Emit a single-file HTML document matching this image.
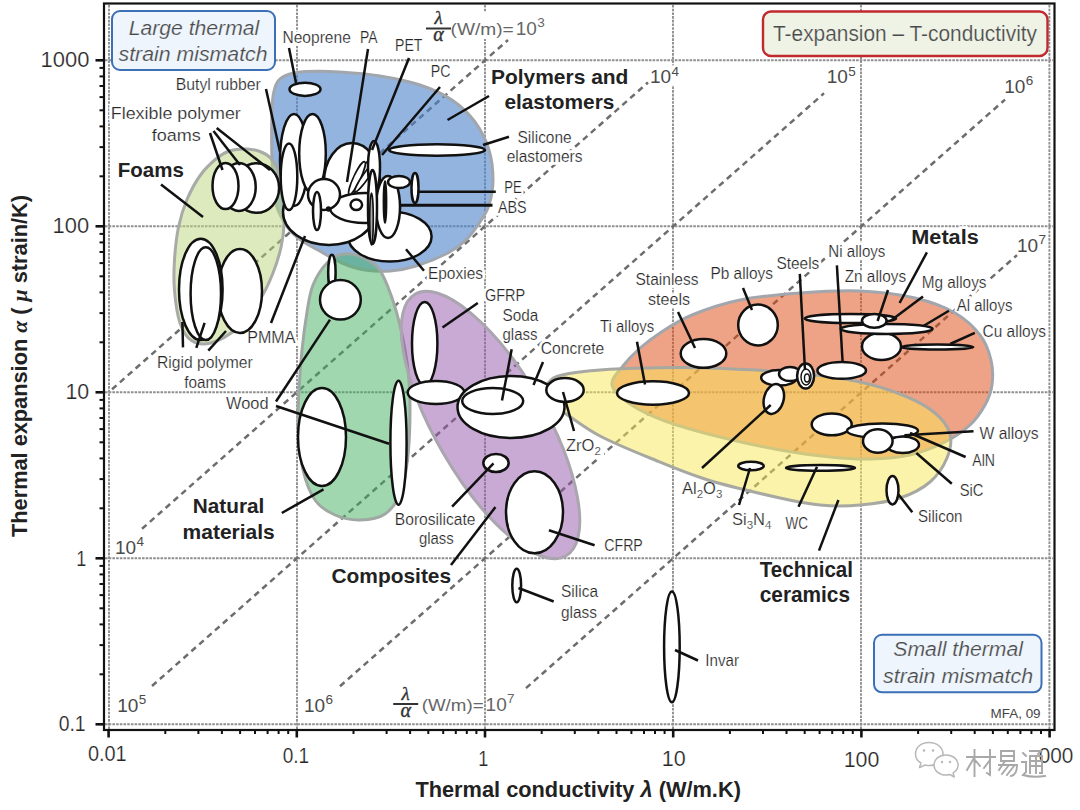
<!DOCTYPE html>
<html><head><meta charset="utf-8"><style>
html,body{margin:0;padding:0;background:#fff;width:1080px;height:810px;overflow:hidden}
svg{display:block}
</style></head><body>
<svg width="1080" height="810" viewBox="0 0 1080 810">
<rect width="1080" height="810" fill="#fff"/>
<g stroke="#8f8f8f" stroke-width="1.9" stroke-dasharray="2.6 1.1" fill="none">
<line x1="109" y1="5" x2="109" y2="729"/>
<line x1="297" y1="5" x2="297" y2="729"/>
<line x1="485" y1="5" x2="485" y2="729"/>
<line x1="673" y1="5" x2="673" y2="729"/>
<line x1="861" y1="5" x2="861" y2="729"/>
<line x1="1049.4" y1="5" x2="1049.4" y2="729"/>
<line x1="105" y1="60.3" x2="1053" y2="60.3"/>
<line x1="105" y1="226.3" x2="1053" y2="226.3"/>
<line x1="105" y1="392.3" x2="1053" y2="392.3"/>
<line x1="105" y1="558.3" x2="1053" y2="558.3"/>
<line x1="105" y1="724.3" x2="1053" y2="724.3"/>
</g>
<g stroke="#6d6d6d" stroke-width="2.5" stroke-dasharray="6 4.5" fill="none">
<line x1="112" y1="389.3" x2="508" y2="40.0"/>
<line x1="142" y1="528.8" x2="648" y2="82.5"/>
<line x1="152" y1="686.0" x2="824" y2="93.3"/>
<line x1="340" y1="686.2" x2="1005" y2="99.6"/>
<line x1="526" y1="688.1" x2="1017" y2="255.1"/>
</g>
<g font-family="'Liberation Sans',sans-serif"><text x="491.0" y="83.5" font-size="21" textLength="137.4" lengthAdjust="spacingAndGlyphs" font-weight="bold" fill="#fff" stroke="#fff" stroke-width="5.5">Polymers and</text><text x="504.4" y="109.3" font-size="21" textLength="110.0" lengthAdjust="spacingAndGlyphs" font-weight="bold" fill="#fff" stroke="#fff" stroke-width="5.5">elastomers</text><text x="192.8" y="513.0" font-size="20.5" textLength="71.6" lengthAdjust="spacingAndGlyphs" font-weight="bold" fill="#fff" stroke="#fff" stroke-width="5.5">Natural</text><text x="182.6" y="538.6" font-size="20.5" textLength="92.1" lengthAdjust="spacingAndGlyphs" font-weight="bold" fill="#fff" stroke="#fff" stroke-width="5.5">materials</text><text x="331.5" y="582.6" font-size="21" textLength="119.6" lengthAdjust="spacingAndGlyphs" font-weight="bold" fill="#fff" stroke="#fff" stroke-width="5.5">Composites</text><text x="911.3" y="243.6" font-size="20" textLength="67.4" lengthAdjust="spacingAndGlyphs" font-weight="bold" fill="#fff" stroke="#fff" stroke-width="5.5">Metals</text><text x="282.5" y="42.5" font-size="16.5" textLength="68.3" lengthAdjust="spacingAndGlyphs" fill="#fff" stroke="#fff" stroke-width="5.5">Neoprene</text><text x="360.0" y="42.5" font-size="16.5" textLength="17.5" lengthAdjust="spacingAndGlyphs" fill="#fff" stroke="#fff" stroke-width="5.5">PA</text><text x="395.0" y="50.8" font-size="16.5" textLength="27.5" lengthAdjust="spacingAndGlyphs" fill="#fff" stroke="#fff" stroke-width="5.5">PET</text><text x="430.8" y="76.7" font-size="16.5" textLength="19.7" lengthAdjust="spacingAndGlyphs" fill="#fff" stroke="#fff" stroke-width="5.5">PC</text><text x="175.8" y="89.7" font-size="16.5" textLength="85.0" lengthAdjust="spacingAndGlyphs" fill="#fff" stroke="#fff" stroke-width="5.5">Butyl rubber</text><text x="110.8" y="118.7" font-size="17" textLength="130.0" lengthAdjust="spacingAndGlyphs" fill="#fff" stroke="#fff" stroke-width="5.5">Flexible polymer</text><text x="151.7" y="140.8" font-size="17" textLength="49.1" lengthAdjust="spacingAndGlyphs" fill="#fff" stroke="#fff" stroke-width="5.5">foams</text><text x="517.5" y="142.5" font-size="16.5" textLength="54.2" lengthAdjust="spacingAndGlyphs" fill="#fff" stroke="#fff" stroke-width="5.5">Silicone</text><text x="506.7" y="161.7" font-size="16.5" textLength="75.8" lengthAdjust="spacingAndGlyphs" fill="#fff" stroke="#fff" stroke-width="5.5">elastomers</text><text x="504.2" y="193.3" font-size="16.5" textLength="17.5" lengthAdjust="spacingAndGlyphs" fill="#fff" stroke="#fff" stroke-width="5.5">PE</text><text x="498.0" y="213.3" font-size="16.5" textLength="28.7" lengthAdjust="spacingAndGlyphs" fill="#fff" stroke="#fff" stroke-width="5.5">ABS</text><text x="427.9" y="278.5" font-size="16.5" textLength="55.1" lengthAdjust="spacingAndGlyphs" fill="#fff" stroke="#fff" stroke-width="5.5">Epoxies</text><text x="247.2" y="342.6" font-size="16.5" textLength="48.2" lengthAdjust="spacingAndGlyphs" fill="#fff" stroke="#fff" stroke-width="5.5">PMMA</text><text x="157.0" y="368.1" font-size="16.5" textLength="95.8" lengthAdjust="spacingAndGlyphs" fill="#fff" stroke="#fff" stroke-width="5.5">Rigid polymer</text><text x="184.3" y="387.6" font-size="16.5" textLength="41.6" lengthAdjust="spacingAndGlyphs" fill="#fff" stroke="#fff" stroke-width="5.5">foams</text><text x="226.0" y="408.9" font-size="16.5" textLength="42.5" lengthAdjust="spacingAndGlyphs" fill="#fff" stroke="#fff" stroke-width="5.5">Wood</text><text x="484.9" y="300.8" font-size="16.5" textLength="40.2" lengthAdjust="spacingAndGlyphs" fill="#fff" stroke="#fff" stroke-width="5.5">GFRP</text><text x="502.5" y="320.8" font-size="16.5" textLength="35.8" lengthAdjust="spacingAndGlyphs" fill="#fff" stroke="#fff" stroke-width="5.5">Soda</text><text x="502.5" y="340.0" font-size="16.5" textLength="35.0" lengthAdjust="spacingAndGlyphs" fill="#fff" stroke="#fff" stroke-width="5.5">glass</text><text x="540.8" y="354.2" font-size="16.5" textLength="63.4" lengthAdjust="spacingAndGlyphs" fill="#fff" stroke="#fff" stroke-width="5.5">Concrete</text><text x="394.8" y="524.7" font-size="16.5" textLength="80.7" lengthAdjust="spacingAndGlyphs" fill="#fff" stroke="#fff" stroke-width="5.5">Borosilicate</text><text x="418.9" y="544.0" font-size="16.5" textLength="34.9" lengthAdjust="spacingAndGlyphs" fill="#fff" stroke="#fff" stroke-width="5.5">glass</text><text x="604.3" y="551.2" font-size="16.5" textLength="38.5" lengthAdjust="spacingAndGlyphs" fill="#fff" stroke="#fff" stroke-width="5.5">CFRP</text><text x="561.0" y="597.0" font-size="16.5" textLength="37.0" lengthAdjust="spacingAndGlyphs" fill="#fff" stroke="#fff" stroke-width="5.5">Silica</text><text x="561.0" y="617.5" font-size="16.5" textLength="36.0" lengthAdjust="spacingAndGlyphs" fill="#fff" stroke="#fff" stroke-width="5.5">glass</text><text x="705.3" y="665.8" font-size="16.5" textLength="33.7" lengthAdjust="spacingAndGlyphs" fill="#fff" stroke="#fff" stroke-width="5.5">Invar</text><text x="600.0" y="332.2" font-size="16.5" textLength="54.2" lengthAdjust="spacingAndGlyphs" fill="#fff" stroke="#fff" stroke-width="5.5">Ti alloys</text><text x="635.5" y="285.0" font-size="16.5" textLength="63.0" lengthAdjust="spacingAndGlyphs" fill="#fff" stroke="#fff" stroke-width="5.5">Stainless</text><text x="648.0" y="304.5" font-size="16.5" textLength="42.0" lengthAdjust="spacingAndGlyphs" fill="#fff" stroke="#fff" stroke-width="5.5">steels</text><text x="710.5" y="279.0" font-size="16.5" textLength="62.5" lengthAdjust="spacingAndGlyphs" fill="#fff" stroke="#fff" stroke-width="5.5">Pb alloys</text><text x="776.5" y="268.5" font-size="16.5" textLength="42.8" lengthAdjust="spacingAndGlyphs" fill="#fff" stroke="#fff" stroke-width="5.5">Steels</text><text x="828.3" y="257.1" font-size="16.5" textLength="57.1" lengthAdjust="spacingAndGlyphs" fill="#fff" stroke="#fff" stroke-width="5.5">Ni alloys</text><text x="844.7" y="282.2" font-size="16.5" textLength="61.4" lengthAdjust="spacingAndGlyphs" fill="#fff" stroke="#fff" stroke-width="5.5">Zn alloys</text><text x="921.7" y="288.0" font-size="16.5" textLength="64.8" lengthAdjust="spacingAndGlyphs" fill="#fff" stroke="#fff" stroke-width="5.5">Mg alloys</text><text x="956.7" y="311.3" font-size="16.5" textLength="55.7" lengthAdjust="spacingAndGlyphs" fill="#fff" stroke="#fff" stroke-width="5.5">Al alloys</text><text x="982.6" y="337.2" font-size="16.5" textLength="63.5" lengthAdjust="spacingAndGlyphs" fill="#fff" stroke="#fff" stroke-width="5.5">Cu alloys</text><text x="979.5" y="439.0" font-size="16.5" textLength="59.2" lengthAdjust="spacingAndGlyphs" fill="#fff" stroke="#fff" stroke-width="5.5">W alloys</text><text x="972.3" y="466.0" font-size="16.5" textLength="22.7" lengthAdjust="spacingAndGlyphs" fill="#fff" stroke="#fff" stroke-width="5.5">AlN</text><text x="959.7" y="495.5" font-size="16.5" textLength="23.7" lengthAdjust="spacingAndGlyphs" fill="#fff" stroke="#fff" stroke-width="5.5">SiC</text><text x="918.0" y="522.0" font-size="16.5" textLength="44.5" lengthAdjust="spacingAndGlyphs" fill="#fff" stroke="#fff" stroke-width="5.5">Silicon</text><text x="785.5" y="528.5" font-size="16.5" textLength="22.5" lengthAdjust="spacingAndGlyphs" fill="#fff" stroke="#fff" stroke-width="5.5">WC</text><rect x="650" y="65.3" width="31" height="20" fill="#fff"/><rect x="826.8" y="65.3" width="31" height="20" fill="#fff"/><rect x="1004.3" y="74.6" width="31" height="20" fill="#fff"/><rect x="1016.9" y="233.6" width="31" height="20" fill="#fff"/><rect x="114.9" y="535.7" width="31" height="20" fill="#fff"/><rect x="117.3" y="693.7" width="31" height="20" fill="#fff"/><rect x="304" y="693.7" width="31" height="20" fill="#fff"/><rect x="515.8" y="17" width="31" height="20" fill="#fff"/><rect x="447" y="12" width="70" height="27" fill="#fff"/><rect x="566" y="438" width="38" height="20" fill="#fff"/></g>
<path d="M274.0,91.0 C275.2,86.0 276.3,82.8 279.0,80.0 C281.7,77.2 285.5,75.4 290.0,74.0 C294.5,72.6 297.7,71.8 306.0,71.5 C314.3,71.2 327.7,71.2 340.0,72.0 C352.3,72.8 366.7,73.8 380.0,76.0 C393.3,78.2 408.0,81.0 420.0,85.0 C432.0,89.0 442.8,93.8 452.0,100.0 C461.2,106.2 468.8,113.7 475.0,122.0 C481.2,130.3 486.0,140.3 489.0,150.0 C492.0,159.7 493.0,170.8 493.0,180.0 C493.0,189.2 491.2,198.0 489.0,205.0 C486.8,212.0 483.8,216.2 480.0,222.0 C476.2,227.8 471.3,234.8 466.0,240.0 C460.7,245.2 456.3,248.7 448.0,253.0 C439.7,257.3 425.7,263.0 416.0,266.0 C406.3,269.0 398.5,270.3 390.0,271.0 C381.5,271.7 373.0,271.3 365.0,270.0 C357.0,268.7 349.8,266.3 342.0,263.0 C334.2,259.7 325.3,254.2 318.0,250.0 C310.7,245.8 303.7,242.7 298.0,238.0 C292.3,233.3 287.8,228.3 284.0,222.0 C280.2,215.7 277.0,210.3 275.0,200.0 C273.0,189.7 272.5,175.0 272.0,160.0 C271.5,145.0 271.7,121.5 272.0,110.0 C272.3,98.5 272.8,96.0 274.0,91.0Z" fill="#4d82cb" fill-opacity="0.6" stroke="#a2a6ad" stroke-width="3"/>
<path d="M247.0,149.0 C251.9,149.2 256.1,150.0 260.0,151.5 C263.9,153.0 267.4,154.7 270.5,158.0 C273.6,161.3 276.5,165.2 278.5,171.5 C280.5,177.8 281.6,187.2 282.5,196.0 C283.4,204.8 284.2,215.7 284.0,224.0 C283.8,232.3 283.1,237.8 281.3,246.0 C279.5,254.2 276.6,263.9 273.0,273.0 C269.4,282.1 265.4,291.3 259.5,300.5 C253.6,309.7 245.7,320.9 237.5,328.0 C229.3,335.1 218.3,340.9 210.6,343.0 C202.9,345.1 196.6,343.8 191.5,340.5 C186.4,337.2 182.8,331.3 180.0,323.0 C177.2,314.7 175.4,301.1 174.5,290.6 C173.6,280.1 173.8,270.6 174.5,260.0 C175.2,249.4 176.4,237.1 178.5,227.0 C180.6,216.9 183.3,208.2 187.0,199.5 C190.7,190.8 195.6,181.8 200.5,175.0 C205.4,168.2 211.5,162.6 216.5,158.5 C221.5,154.4 225.4,152.1 230.5,150.5 C235.6,148.9 242.1,148.8 247.0,149.0Z" fill="#b9d57d" fill-opacity="0.5" stroke="#a8aba6" stroke-width="3"/>
<path d="M343.0,254.0 C348.8,253.0 356.0,254.5 362.0,257.0 C368.0,259.5 374.2,262.7 379.0,269.0 C383.8,275.3 387.3,284.8 391.0,295.0 C394.7,305.2 398.2,317.5 401.0,330.0 C403.8,342.5 406.5,356.7 408.0,370.0 C409.5,383.3 410.0,395.8 410.0,410.0 C410.0,424.2 409.5,441.3 408.0,455.0 C406.5,468.7 404.8,482.2 401.0,492.0 C397.2,501.8 391.8,509.3 385.0,514.0 C378.2,518.7 368.3,519.8 360.0,520.0 C351.7,520.2 342.5,518.3 335.0,515.0 C327.5,511.7 320.3,507.5 315.0,500.0 C309.7,492.5 305.8,481.7 303.0,470.0 C300.2,458.3 298.7,443.3 298.0,430.0 C297.3,416.7 298.3,403.3 299.0,390.0 C299.7,376.7 300.7,363.0 302.0,350.0 C303.3,337.0 305.2,322.8 307.0,312.0 C308.8,301.2 309.7,293.2 313.0,285.0 C316.3,276.8 322.0,268.2 327.0,263.0 C332.0,257.8 337.2,255.0 343.0,254.0Z" fill="#41af5f" fill-opacity="0.5" stroke="#a0a8a4" stroke-width="3"/>
<ellipse cx="490.5" cy="425" rx="55" ry="151" transform="rotate(-30 490.5 425)" fill="#9155a9" fill-opacity="0.5" stroke="#aaa5ae" stroke-width="3"/>
<path d="M612.0,385.0 C610.8,378.7 618.5,372.0 623.0,366.0 C627.5,360.0 632.8,354.5 639.0,349.0 C645.2,343.5 651.2,338.7 660.0,333.0 C668.8,327.3 678.7,320.5 692.0,315.0 C705.3,309.5 722.0,303.7 740.0,300.0 C758.0,296.3 780.0,294.5 800.0,293.0 C820.0,291.5 840.8,290.2 860.0,291.0 C879.2,291.8 899.2,294.3 915.0,298.0 C930.8,301.7 944.2,306.8 955.0,313.0 C965.8,319.2 974.0,327.2 980.0,335.0 C986.0,342.8 989.0,351.7 991.0,360.0 C993.0,368.3 993.0,377.5 992.0,385.0 C991.0,392.5 988.7,398.3 985.0,405.0 C981.3,411.7 976.7,418.8 970.0,425.0 C963.3,431.2 955.0,437.0 945.0,442.0 C935.0,447.0 922.5,452.2 910.0,455.0 C897.5,457.8 883.3,458.7 870.0,459.0 C856.7,459.3 845.0,458.5 830.0,457.0 C815.0,455.5 798.3,453.3 780.0,450.0 C761.7,446.7 739.2,441.8 720.0,437.0 C700.8,432.2 680.0,426.5 665.0,421.0 C650.0,415.5 638.8,410.0 630.0,404.0 C621.2,398.0 613.2,391.3 612.0,385.0Z" fill="#dd470d" fill-opacity="0.5" stroke="#a2a6ad" stroke-width="3"/>
<path d="M545.0,394.0 C544.7,390.3 546.2,385.2 549.0,382.0 C551.8,378.8 553.5,377.0 562.0,375.0 C570.5,373.0 585.3,371.2 600.0,370.0 C614.7,368.8 632.0,368.3 650.0,368.0 C668.0,367.7 683.5,367.2 708.0,368.0 C732.5,368.8 771.7,370.7 797.0,373.0 C822.3,375.3 842.0,378.2 860.0,382.0 C878.0,385.8 892.5,390.8 905.0,396.0 C917.5,401.2 927.5,406.7 935.0,413.0 C942.5,419.3 948.0,426.5 950.0,434.0 C952.0,441.5 950.3,450.0 947.0,458.0 C943.7,466.0 937.8,475.3 930.0,482.0 C922.2,488.7 911.7,494.2 900.0,498.0 C888.3,501.8 873.3,503.8 860.0,505.0 C846.7,506.2 833.3,506.2 820.0,505.0 C806.7,503.8 798.7,502.2 780.0,498.0 C761.3,493.8 729.7,486.7 708.0,480.0 C686.3,473.3 668.0,465.3 650.0,458.0 C632.0,450.7 614.0,443.3 600.0,436.0 C586.0,428.7 574.2,419.3 566.0,414.0 C557.8,408.7 554.5,407.3 551.0,404.0 C547.5,400.7 545.3,397.7 545.0,394.0Z" fill="#f9e755" fill-opacity="0.5" stroke="#a8a8a2" stroke-width="3"/>
<rect x="112" y="11" width="163" height="59" rx="8" fill="#eef5fc" stroke="#3b6fb6" stroke-width="2"/>
<rect x="874" y="634.8" width="167.5" height="57.5" rx="8" fill="#eef5fc" stroke="#3b6fb6" stroke-width="2"/>
<rect x="763" y="11.5" width="284.5" height="44.5" rx="8" fill="#eff3e6" stroke="#c0292e" stroke-width="2.4"/>
<g stroke="#111"><ellipse cx="305" cy="89.3" rx="15.5" ry="6.6" fill="#fff" stroke-width="2.5"/><ellipse cx="437" cy="150" rx="48" ry="5.8" fill="#fff" stroke-width="2.5"/><ellipse cx="389.8" cy="236.6" rx="41.8" ry="25" fill="#fff" stroke-width="2.5"/><ellipse cx="329" cy="212" rx="46" ry="33" fill="#fff" stroke-width="2.5"/><ellipse cx="294" cy="160" rx="14" ry="46" fill="#fff" stroke-width="2.5"/><ellipse cx="312.5" cy="153.5" rx="13.3" ry="39.6" fill="#fff" stroke-width="2.5"/><ellipse cx="289" cy="176.7" rx="8.3" ry="33.3" fill="#fff" stroke-width="2.5"/><ellipse cx="352" cy="182" rx="28" ry="39" fill="#fff" stroke-width="2.5"/><ellipse cx="365" cy="208" rx="35" ry="15" fill="#fff" stroke-width="2.5"/><ellipse cx="324" cy="194.5" rx="16" ry="15.5" fill="#fff" stroke-width="2.5"/><ellipse cx="317" cy="211" rx="4" ry="19" fill="#fff" stroke-width="2.5"/><ellipse cx="356.3" cy="204.8" rx="5.8" ry="5.2" fill="#fff" stroke-width="2.5"/><ellipse cx="328.5" cy="209" rx="2" ry="2" fill="#111" stroke-width="1.5"/><ellipse cx="362" cy="176" rx="4" ry="20" transform="rotate(30 362 176)" fill="#fff" stroke-width="1.6"/><ellipse cx="357" cy="178" rx="3.5" ry="18" transform="rotate(25 357 178)" fill="#fff" stroke-width="1.6"/><ellipse cx="366" cy="176" rx="3" ry="19" transform="rotate(35 366 176)" fill="#fff" stroke-width="1.6"/><ellipse cx="374" cy="167" rx="6" ry="26" fill="#fff" stroke-width="2.5"/><ellipse cx="388" cy="207" rx="12" ry="31" fill="#fff" stroke-width="2.5"/><ellipse cx="372.5" cy="207" rx="4.5" ry="37" fill="#fff" stroke-width="2.5"/><ellipse cx="399" cy="182" rx="11" ry="6" fill="#fff" stroke-width="2.5"/><ellipse cx="415" cy="188" rx="3.5" ry="15" fill="#fff" stroke-width="2.5"/><ellipse cx="371.5" cy="219" rx="1.8" ry="26" fill="#aaa" stroke-width="1.6"/><ellipse cx="385" cy="202" rx="1.6" ry="21" fill="#111" stroke-width="1.6"/><ellipse cx="256.6" cy="188" rx="22.5" ry="24.8" fill="#fff" stroke-width="2.5"/><ellipse cx="239" cy="187" rx="16.7" ry="24" fill="#fff" stroke-width="2.5"/><ellipse cx="225.5" cy="186" rx="13" ry="23" fill="#fff" stroke-width="2.5"/><ellipse cx="240" cy="291" rx="22" ry="42" fill="#fff" stroke-width="2.5"/><ellipse cx="200.8" cy="289.4" rx="21.8" ry="50.7" fill="#fff" stroke-width="2.5"/><ellipse cx="205.8" cy="293.7" rx="15.2" ry="46.4" fill="#fff" stroke-width="2.5"/><ellipse cx="331.9" cy="272.4" rx="3.7" ry="17.6" fill="#fff" stroke-width="2.5"/><ellipse cx="340.4" cy="299.8" rx="20.4" ry="19.8" fill="#fff" stroke-width="2.5"/><ellipse cx="322" cy="437" rx="24" ry="49" fill="#fff" stroke-width="2.5"/><ellipse cx="398.5" cy="442.8" rx="8.1" ry="62" fill="#fff" stroke-width="2.5"/><ellipse cx="424.7" cy="343.6" rx="12.7" ry="41.6" fill="#fff" stroke-width="2.5"/><ellipse cx="436" cy="392.5" rx="28.3" ry="11.4" fill="#fff" stroke-width="2.5"/><ellipse cx="511" cy="407" rx="53.5" ry="31" fill="#fff" stroke-width="2.5"/><ellipse cx="492.7" cy="401" rx="30.5" ry="13" fill="#fff" stroke-width="2.5"/><ellipse cx="565" cy="390" rx="18.7" ry="11.9" fill="#fff" stroke-width="2.5"/><ellipse cx="496" cy="463" rx="12.7" ry="9" fill="#fff" stroke-width="2.5"/><ellipse cx="534.5" cy="512.3" rx="28.5" ry="41" fill="#fff" stroke-width="2.5"/><ellipse cx="516.7" cy="585.5" rx="4.4" ry="16.7" fill="#fff" stroke-width="2.5"/><ellipse cx="671.9" cy="646.8" rx="7.8" ry="55.4" fill="#fff" stroke-width="2.5"/><ellipse cx="653" cy="393" rx="36" ry="11.7" fill="#fff" stroke-width="2.5"/><ellipse cx="703.5" cy="353.4" rx="22.8" ry="14.4" fill="#fff" stroke-width="2.5"/><ellipse cx="758" cy="325" rx="19.8" ry="20.4" fill="#fff" stroke-width="2.5"/><ellipse cx="779" cy="377.8" rx="17.8" ry="7.8" fill="#fff" stroke-width="2.5"/><ellipse cx="790" cy="374" rx="11" ry="7" fill="#fff" stroke-width="2.5"/><ellipse cx="805.6" cy="376" rx="8.5" ry="12.5" fill="#fff" stroke-width="2.5"/><ellipse cx="773.8" cy="399" rx="9.8" ry="15.2" transform="rotate(15 773.8 399)" fill="#fff" stroke-width="2.5"/><ellipse cx="850.4" cy="318.5" rx="45.7" ry="4.5" fill="#fff" stroke-width="2.5"/><ellipse cx="881.5" cy="346.4" rx="19.5" ry="13.6" fill="#fff" stroke-width="2.5"/><ellipse cx="886.7" cy="328.9" rx="46" ry="5" fill="#fff" stroke-width="2.5"/><ellipse cx="874.3" cy="320.8" rx="12.3" ry="6.9" fill="#fff" stroke-width="2.5"/><ellipse cx="937.3" cy="347" rx="36" ry="2.6" fill="#fff" stroke-width="2.5"/><ellipse cx="841.7" cy="370.4" rx="24.3" ry="8.4" fill="#fff" stroke-width="2.5"/><ellipse cx="831.7" cy="424.4" rx="20" ry="10.9" fill="#fff" stroke-width="2.5"/><ellipse cx="882.5" cy="430.7" rx="35.5" ry="7.3" fill="#fff" stroke-width="2.5"/><ellipse cx="902.8" cy="444.7" rx="16.2" ry="8.3" fill="#fff" stroke-width="2.5"/><ellipse cx="877.8" cy="441" rx="14.8" ry="11.8" fill="#fff" stroke-width="2.5"/><ellipse cx="820.5" cy="467.9" rx="34.5" ry="2.8" fill="#fff" stroke-width="2.5"/><ellipse cx="751" cy="466" rx="12.8" ry="4.2" fill="#fff" stroke-width="2.5"/><ellipse cx="892.5" cy="490.2" rx="6" ry="14.2" fill="#fff" stroke-width="2.5"/></g>
<g fill="none" stroke="#111" stroke-width="1.4"><ellipse cx="806" cy="377" rx="5" ry="8"/><ellipse cx="807" cy="378" rx="2.5" ry="4"/></g>
<line x1="401" y1="205.3" x2="492.5" y2="205.3" stroke="#111" stroke-width="3"/>
<g stroke="#111" stroke-width="2.5" stroke-linecap="butt"><line x1="289" y1="48" x2="296" y2="83"/><line x1="368" y1="49" x2="347" y2="182"/><line x1="409" y1="58" x2="372" y2="150"/><line x1="440" y1="87" x2="382" y2="155"/><line x1="266" y1="89" x2="280" y2="152"/><line x1="210" y1="133" x2="222.5" y2="170"/><line x1="213.5" y1="131" x2="240" y2="165"/><line x1="216.7" y1="128" x2="270" y2="170"/><line x1="161" y1="184.5" x2="203" y2="217"/><line x1="447.5" y1="120" x2="489" y2="96"/><line x1="483" y1="145" x2="509" y2="136.7"/><line x1="418" y1="191.7" x2="495.8" y2="191.7"/><line x1="406" y1="249.3" x2="424" y2="270.7"/><line x1="305" y1="236" x2="271" y2="323"/><line x1="183" y1="347.4" x2="182.4" y2="322"/><line x1="196.3" y1="347.8" x2="204.6" y2="322.8"/><line x1="208.3" y1="350.6" x2="226" y2="331"/><line x1="276" y1="401.5" x2="330" y2="319.6"/><line x1="276" y1="406" x2="389" y2="443.7"/><line x1="281.8" y1="513" x2="323.5" y2="489.4"/><line x1="442.5" y1="327.5" x2="477.8" y2="303"/><line x1="511.7" y1="349.2" x2="502" y2="400.5"/><line x1="543" y1="362" x2="533.5" y2="385"/><line x1="574" y1="431" x2="563" y2="392"/><line x1="452.1" y1="506.7" x2="493.5" y2="463.3"/><line x1="451" y1="565" x2="495.4" y2="507.1"/><line x1="548.9" y1="530.3" x2="594.6" y2="545.2"/><line x1="518.5" y1="588" x2="553.7" y2="601.5"/><line x1="675" y1="650" x2="698" y2="660.5"/><line x1="637" y1="341.7" x2="645" y2="384.4"/><line x1="678" y1="312" x2="695" y2="348"/><line x1="743" y1="288" x2="752" y2="310"/><line x1="799.8" y1="273.9" x2="805" y2="370"/><line x1="702" y1="468" x2="770.7" y2="405"/><line x1="739" y1="505" x2="750" y2="468"/><line x1="798.5" y1="506.7" x2="817" y2="466.7"/><line x1="926.9" y1="252.4" x2="899.6" y2="303"/><line x1="836.9" y1="265.4" x2="842.6" y2="362"/><line x1="888" y1="290" x2="877.6" y2="321"/><line x1="923" y1="296.5" x2="891" y2="320.5"/><line x1="948.9" y1="310.7" x2="923" y2="326.3"/><line x1="974.8" y1="332.8" x2="950.2" y2="344"/><line x1="973.5" y1="431.3" x2="904.4" y2="435.2"/><line x1="965.6" y1="457" x2="910" y2="433"/><line x1="951.8" y1="483.8" x2="916.3" y2="453"/><line x1="912.3" y1="512.3" x2="898.5" y2="494.5"/><line x1="819" y1="550.6" x2="838.4" y2="500"/></g>
<rect x="104" y="3.5" width="950.5" height="726.5" fill="none" stroke="#111" stroke-width="2.2"/>
<g stroke="#111" stroke-width="2"><line x1="95.5" y1="724.3" x2="104" y2="724.3" stroke-width="2.6"/><line x1="99.5" y1="674.3" x2="104" y2="674.3"/><line x1="99.5" y1="645.1" x2="104" y2="645.1"/><line x1="99.5" y1="624.4" x2="104" y2="624.4"/><line x1="99.5" y1="608.3" x2="104" y2="608.3"/><line x1="99.5" y1="595.1" x2="104" y2="595.1"/><line x1="99.5" y1="584.0" x2="104" y2="584.0"/><line x1="99.5" y1="574.4" x2="104" y2="574.4"/><line x1="99.5" y1="565.9" x2="104" y2="565.9"/><line x1="95.5" y1="558.3" x2="104" y2="558.3" stroke-width="2.6"/><line x1="99.5" y1="508.3" x2="104" y2="508.3"/><line x1="99.5" y1="479.1" x2="104" y2="479.1"/><line x1="99.5" y1="458.4" x2="104" y2="458.4"/><line x1="99.5" y1="442.3" x2="104" y2="442.3"/><line x1="99.5" y1="429.1" x2="104" y2="429.1"/><line x1="99.5" y1="418.0" x2="104" y2="418.0"/><line x1="99.5" y1="408.4" x2="104" y2="408.4"/><line x1="99.5" y1="399.9" x2="104" y2="399.9"/><line x1="95.5" y1="392.3" x2="104" y2="392.3" stroke-width="2.6"/><line x1="99.5" y1="342.3" x2="104" y2="342.3"/><line x1="99.5" y1="313.1" x2="104" y2="313.1"/><line x1="99.5" y1="292.4" x2="104" y2="292.4"/><line x1="99.5" y1="276.3" x2="104" y2="276.3"/><line x1="99.5" y1="263.1" x2="104" y2="263.1"/><line x1="99.5" y1="252.0" x2="104" y2="252.0"/><line x1="99.5" y1="242.4" x2="104" y2="242.4"/><line x1="99.5" y1="233.9" x2="104" y2="233.9"/><line x1="95.5" y1="226.3" x2="104" y2="226.3" stroke-width="2.6"/><line x1="99.5" y1="176.3" x2="104" y2="176.3"/><line x1="99.5" y1="147.1" x2="104" y2="147.1"/><line x1="99.5" y1="126.4" x2="104" y2="126.4"/><line x1="99.5" y1="110.3" x2="104" y2="110.3"/><line x1="99.5" y1="97.1" x2="104" y2="97.1"/><line x1="99.5" y1="86.0" x2="104" y2="86.0"/><line x1="99.5" y1="76.4" x2="104" y2="76.4"/><line x1="99.5" y1="67.9" x2="104" y2="67.9"/><line x1="95.5" y1="60.3" x2="104" y2="60.3" stroke-width="2.6"/><line x1="108.6" y1="730" x2="108.6" y2="737.5" stroke-width="2.6"/><line x1="165.3" y1="730" x2="165.3" y2="734"/><line x1="198.4" y1="730" x2="198.4" y2="734"/><line x1="221.9" y1="730" x2="221.9" y2="734"/><line x1="240.1" y1="730" x2="240.1" y2="734"/><line x1="255.0" y1="730" x2="255.0" y2="734"/><line x1="267.6" y1="730" x2="267.6" y2="734"/><line x1="278.6" y1="730" x2="278.6" y2="734"/><line x1="288.2" y1="730" x2="288.2" y2="734"/><line x1="296.8" y1="730" x2="296.8" y2="737.5" stroke-width="2.6"/><line x1="353.5" y1="730" x2="353.5" y2="734"/><line x1="386.6" y1="730" x2="386.6" y2="734"/><line x1="410.1" y1="730" x2="410.1" y2="734"/><line x1="428.3" y1="730" x2="428.3" y2="734"/><line x1="443.2" y1="730" x2="443.2" y2="734"/><line x1="455.8" y1="730" x2="455.8" y2="734"/><line x1="466.8" y1="730" x2="466.8" y2="734"/><line x1="476.4" y1="730" x2="476.4" y2="734"/><line x1="485.0" y1="730" x2="485.0" y2="737.5" stroke-width="2.6"/><line x1="541.7" y1="730" x2="541.7" y2="734"/><line x1="574.8" y1="730" x2="574.8" y2="734"/><line x1="598.3" y1="730" x2="598.3" y2="734"/><line x1="616.5" y1="730" x2="616.5" y2="734"/><line x1="631.4" y1="730" x2="631.4" y2="734"/><line x1="644.0" y1="730" x2="644.0" y2="734"/><line x1="655.0" y1="730" x2="655.0" y2="734"/><line x1="664.6" y1="730" x2="664.6" y2="734"/><line x1="673.2" y1="730" x2="673.2" y2="737.5" stroke-width="2.6"/><line x1="729.9" y1="730" x2="729.9" y2="734"/><line x1="763.0" y1="730" x2="763.0" y2="734"/><line x1="786.5" y1="730" x2="786.5" y2="734"/><line x1="804.7" y1="730" x2="804.7" y2="734"/><line x1="819.6" y1="730" x2="819.6" y2="734"/><line x1="832.2" y1="730" x2="832.2" y2="734"/><line x1="843.2" y1="730" x2="843.2" y2="734"/><line x1="852.8" y1="730" x2="852.8" y2="734"/><line x1="861.4" y1="730" x2="861.4" y2="737.5" stroke-width="2.6"/><line x1="918.1" y1="730" x2="918.1" y2="734"/><line x1="951.2" y1="730" x2="951.2" y2="734"/><line x1="974.7" y1="730" x2="974.7" y2="734"/><line x1="992.9" y1="730" x2="992.9" y2="734"/><line x1="1007.8" y1="730" x2="1007.8" y2="734"/><line x1="1020.4" y1="730" x2="1020.4" y2="734"/><line x1="1031.4" y1="730" x2="1031.4" y2="734"/><line x1="1041.0" y1="730" x2="1041.0" y2="734"/><line x1="1049.6" y1="730" x2="1049.6" y2="737.5" stroke-width="2.6"/></g>
<g font-family="'Liberation Sans',sans-serif"><text x="40.6" y="66.7" font-size="21.5" textLength="48.8" lengthAdjust="spacingAndGlyphs" fill="#262626" stroke="#fff" stroke-width="0.22">1000</text><text x="52.6" y="232.5" font-size="21.5" textLength="36.5" lengthAdjust="spacingAndGlyphs" fill="#262626" stroke="#fff" stroke-width="0.22">100</text><text x="65.4" y="399.4" font-size="21.5" textLength="23.7" lengthAdjust="spacingAndGlyphs" fill="#262626" stroke="#fff" stroke-width="0.22">10</text><text x="76.2" y="565.6" font-size="21.5" textLength="10.1" lengthAdjust="spacingAndGlyphs" fill="#262626" stroke="#fff" stroke-width="0.22">1</text><text x="58.7" y="730.9" font-size="21.5" textLength="26.9" lengthAdjust="spacingAndGlyphs" fill="#262626" stroke="#fff" stroke-width="0.22">0.1</text><text x="87.9" y="760.8" font-size="21.5" textLength="38.7" lengthAdjust="spacingAndGlyphs" fill="#262626" stroke="#fff" stroke-width="0.22">0.01</text><text x="282.7" y="762.7" font-size="21.5" textLength="26.5" lengthAdjust="spacingAndGlyphs" fill="#262626" stroke="#fff" stroke-width="0.22">0.1</text><text x="478.2" y="765.6" font-size="21.5" textLength="10.1" lengthAdjust="spacingAndGlyphs" fill="#262626" stroke="#fff" stroke-width="0.22">1</text><text x="661.7" y="765.7" font-size="21.5" textLength="23.9" lengthAdjust="spacingAndGlyphs" fill="#262626" stroke="#fff" stroke-width="0.22">10</text><text x="843.7" y="766.6" font-size="21.5" textLength="35.6" lengthAdjust="spacingAndGlyphs" fill="#262626" stroke="#fff" stroke-width="0.22">100</text><text x="1038.7" y="763.3" font-size="21.5" textLength="34.6" lengthAdjust="spacingAndGlyphs" fill="#262626" stroke="#fff" stroke-width="0.22">000</text><text x="0" y="0" font-size="21.3" font-weight="bold" fill="#222" textLength="325.5" lengthAdjust="spacingAndGlyphs" transform="translate(415.4 796.9)">Thermal conductivity <tspan font-style="italic">λ</tspan> (W/m.K)</text><text x="0" y="0" font-size="21.4" font-weight="bold" fill="#222" textLength="342" lengthAdjust="spacingAndGlyphs" transform="translate(26.7 537) rotate(-90)">Thermal expansion <tspan font-style="italic" font-family="Liberation Serif">α</tspan> ( <tspan font-style="italic" font-family="Liberation Serif">μ</tspan> strain/K)</text><text x="128.7" y="34.8" font-size="21" textLength="130.6" lengthAdjust="spacingAndGlyphs" font-style="italic" fill="#4a4a4a" stroke="#eef5fc" stroke-width="0.22">Large thermal</text><text x="118.5" y="61.0" font-size="21" textLength="149.1" lengthAdjust="spacingAndGlyphs" font-style="italic" fill="#4a4a4a" stroke="#eef5fc" stroke-width="0.22">strain mismatch</text><text x="893.3" y="656.1" font-size="20" textLength="129.7" lengthAdjust="spacingAndGlyphs" font-style="italic" fill="#4a4a4a" stroke="#eef5fc" stroke-width="0.22">Small thermal</text><text x="883.1" y="683.0" font-size="20" textLength="150.0" lengthAdjust="spacingAndGlyphs" font-style="italic" fill="#4a4a4a" stroke="#eef5fc" stroke-width="0.22">strain mismatch</text><text x="773.0" y="41.0" font-size="21.5" textLength="264.0" lengthAdjust="spacingAndGlyphs" fill="#4a4a4a" stroke="#eff3e6" stroke-width="0.22">T-expansion – T-conductivity</text><text x="990.6" y="717.6" font-size="12.5" textLength="50.0" lengthAdjust="spacingAndGlyphs" fill="#444">MFA, 09</text><text x="491.0" y="83.5" font-size="21" textLength="137.4" lengthAdjust="spacingAndGlyphs" font-weight="bold" fill="#222">Polymers and</text><text x="504.4" y="109.3" font-size="21" textLength="110.0" lengthAdjust="spacingAndGlyphs" font-weight="bold" fill="#222">elastomers</text><text x="117.8" y="176.7" font-size="20.5" textLength="66.1" lengthAdjust="spacingAndGlyphs" font-weight="bold" fill="#222">Foams</text><text x="192.8" y="513.0" font-size="20.5" textLength="71.6" lengthAdjust="spacingAndGlyphs" font-weight="bold" fill="#222">Natural</text><text x="182.6" y="538.6" font-size="20.5" textLength="92.1" lengthAdjust="spacingAndGlyphs" font-weight="bold" fill="#222">materials</text><text x="331.5" y="582.6" font-size="21" textLength="119.6" lengthAdjust="spacingAndGlyphs" font-weight="bold" fill="#222">Composites</text><text x="911.3" y="243.6" font-size="20" textLength="67.4" lengthAdjust="spacingAndGlyphs" font-weight="bold" fill="#222">Metals</text><text x="759.8" y="576.6" font-size="21.5" textLength="93.2" lengthAdjust="spacingAndGlyphs" font-weight="bold" fill="#222">Technical</text><text x="759.8" y="601.9" font-size="21.5" textLength="90.2" lengthAdjust="spacingAndGlyphs" font-weight="bold" fill="#222">ceramics</text><text x="282.5" y="42.5" font-size="16.5" textLength="68.3" lengthAdjust="spacingAndGlyphs" fill="#262626" stroke="#fff" stroke-width="0.22">Neoprene</text><text x="360.0" y="42.5" font-size="16.5" textLength="17.5" lengthAdjust="spacingAndGlyphs" fill="#262626" stroke="#fff" stroke-width="0.22">PA</text><text x="395.0" y="50.8" font-size="16.5" textLength="27.5" lengthAdjust="spacingAndGlyphs" fill="#262626" stroke="#fff" stroke-width="0.22">PET</text><text x="430.8" y="76.7" font-size="16.5" textLength="19.7" lengthAdjust="spacingAndGlyphs" fill="#262626" stroke="#fff" stroke-width="0.22">PC</text><text x="175.8" y="89.7" font-size="16.5" textLength="85.0" lengthAdjust="spacingAndGlyphs" fill="#262626" stroke="#fff" stroke-width="0.22">Butyl rubber</text><text x="110.8" y="118.7" font-size="17" textLength="130.0" lengthAdjust="spacingAndGlyphs" fill="#262626" stroke="#fff" stroke-width="0.22">Flexible polymer</text><text x="151.7" y="140.8" font-size="17" textLength="49.1" lengthAdjust="spacingAndGlyphs" fill="#262626" stroke="#fff" stroke-width="0.22">foams</text><text x="517.5" y="142.5" font-size="16.5" textLength="54.2" lengthAdjust="spacingAndGlyphs" fill="#262626" stroke="#fff" stroke-width="0.22">Silicone</text><text x="506.7" y="161.7" font-size="16.5" textLength="75.8" lengthAdjust="spacingAndGlyphs" fill="#262626" stroke="#fff" stroke-width="0.22">elastomers</text><text x="504.2" y="193.3" font-size="16.5" textLength="17.5" lengthAdjust="spacingAndGlyphs" fill="#262626" stroke="#fff" stroke-width="0.22">PE</text><text x="498.0" y="213.3" font-size="16.5" textLength="28.7" lengthAdjust="spacingAndGlyphs" fill="#262626" stroke="#fff" stroke-width="0.22">ABS</text><text x="427.9" y="278.5" font-size="16.5" textLength="55.1" lengthAdjust="spacingAndGlyphs" fill="#262626" stroke="#fff" stroke-width="0.22">Epoxies</text><text x="247.2" y="342.6" font-size="16.5" textLength="48.2" lengthAdjust="spacingAndGlyphs" fill="#262626" stroke="#fff" stroke-width="0.22">PMMA</text><text x="157.0" y="368.1" font-size="16.5" textLength="95.8" lengthAdjust="spacingAndGlyphs" fill="#262626" stroke="#fff" stroke-width="0.22">Rigid polymer</text><text x="184.3" y="387.6" font-size="16.5" textLength="41.6" lengthAdjust="spacingAndGlyphs" fill="#262626" stroke="#fff" stroke-width="0.22">foams</text><text x="226.0" y="408.9" font-size="16.5" textLength="42.5" lengthAdjust="spacingAndGlyphs" fill="#262626" stroke="#fff" stroke-width="0.22">Wood</text><text x="484.9" y="300.8" font-size="16.5" textLength="40.2" lengthAdjust="spacingAndGlyphs" fill="#262626" stroke="#fff" stroke-width="0.22">GFRP</text><text x="502.5" y="320.8" font-size="16.5" textLength="35.8" lengthAdjust="spacingAndGlyphs" fill="#262626" stroke="#fff" stroke-width="0.22">Soda</text><text x="502.5" y="340.0" font-size="16.5" textLength="35.0" lengthAdjust="spacingAndGlyphs" fill="#262626" stroke="#fff" stroke-width="0.22">glass</text><text x="540.8" y="354.2" font-size="16.5" textLength="63.4" lengthAdjust="spacingAndGlyphs" fill="#262626" stroke="#fff" stroke-width="0.22">Concrete</text><text x="394.8" y="524.7" font-size="16.5" textLength="80.7" lengthAdjust="spacingAndGlyphs" fill="#262626" stroke="#fff" stroke-width="0.22">Borosilicate</text><text x="418.9" y="544.0" font-size="16.5" textLength="34.9" lengthAdjust="spacingAndGlyphs" fill="#262626" stroke="#fff" stroke-width="0.22">glass</text><text x="604.3" y="551.2" font-size="16.5" textLength="38.5" lengthAdjust="spacingAndGlyphs" fill="#262626" stroke="#fff" stroke-width="0.22">CFRP</text><text x="561.0" y="597.0" font-size="16.5" textLength="37.0" lengthAdjust="spacingAndGlyphs" fill="#262626" stroke="#fff" stroke-width="0.22">Silica</text><text x="561.0" y="617.5" font-size="16.5" textLength="36.0" lengthAdjust="spacingAndGlyphs" fill="#262626" stroke="#fff" stroke-width="0.22">glass</text><text x="705.3" y="665.8" font-size="16.5" textLength="33.7" lengthAdjust="spacingAndGlyphs" fill="#262626" stroke="#fff" stroke-width="0.22">Invar</text><text x="600.0" y="332.2" font-size="16.5" textLength="54.2" lengthAdjust="spacingAndGlyphs" fill="#262626" stroke="#fff" stroke-width="0.22">Ti alloys</text><text x="635.5" y="285.0" font-size="16.5" textLength="63.0" lengthAdjust="spacingAndGlyphs" fill="#262626" stroke="#fff" stroke-width="0.22">Stainless</text><text x="648.0" y="304.5" font-size="16.5" textLength="42.0" lengthAdjust="spacingAndGlyphs" fill="#262626" stroke="#fff" stroke-width="0.22">steels</text><text x="710.5" y="279.0" font-size="16.5" textLength="62.5" lengthAdjust="spacingAndGlyphs" fill="#262626" stroke="#fff" stroke-width="0.22">Pb alloys</text><text x="776.5" y="268.5" font-size="16.5" textLength="42.8" lengthAdjust="spacingAndGlyphs" fill="#262626" stroke="#fff" stroke-width="0.22">Steels</text><text x="828.3" y="257.1" font-size="16.5" textLength="57.1" lengthAdjust="spacingAndGlyphs" fill="#262626" stroke="#fff" stroke-width="0.22">Ni alloys</text><text x="844.7" y="282.2" font-size="16.5" textLength="61.4" lengthAdjust="spacingAndGlyphs" fill="#262626" stroke="#fff" stroke-width="0.22">Zn alloys</text><text x="921.7" y="288.0" font-size="16.5" textLength="64.8" lengthAdjust="spacingAndGlyphs" fill="#262626" stroke="#fff" stroke-width="0.22">Mg alloys</text><text x="956.7" y="311.3" font-size="16.5" textLength="55.7" lengthAdjust="spacingAndGlyphs" fill="#262626" stroke="#fff" stroke-width="0.22">Al alloys</text><text x="982.6" y="337.2" font-size="16.5" textLength="63.5" lengthAdjust="spacingAndGlyphs" fill="#262626" stroke="#fff" stroke-width="0.22">Cu alloys</text><text x="979.5" y="439.0" font-size="16.5" textLength="59.2" lengthAdjust="spacingAndGlyphs" fill="#262626" stroke="#fff" stroke-width="0.22">W alloys</text><text x="972.3" y="466.0" font-size="16.5" textLength="22.7" lengthAdjust="spacingAndGlyphs" fill="#262626" stroke="#fff" stroke-width="0.22">AlN</text><text x="959.7" y="495.5" font-size="16.5" textLength="23.7" lengthAdjust="spacingAndGlyphs" fill="#262626" stroke="#fff" stroke-width="0.22">SiC</text><text x="918.0" y="522.0" font-size="16.5" textLength="44.5" lengthAdjust="spacingAndGlyphs" fill="#262626" stroke="#fff" stroke-width="0.22">Silicon</text><text x="785.5" y="528.5" font-size="16.5" textLength="22.5" lengthAdjust="spacingAndGlyphs" fill="#262626" stroke="#fff" stroke-width="0.22">WC</text><text x="566" y="451.3" font-size="16.5" fill="#262626" stroke="#fff" stroke-width="0.22">ZrO<tspan font-size="11.5" dy="4">2</tspan></text><text x="682" y="494" font-size="16.5" fill="#262626" stroke="#fff" stroke-width="0.22">Al<tspan font-size="11.5" dy="4">2</tspan><tspan dy="-4">O</tspan><tspan font-size="11.5" dy="4">3</tspan></text><text x="732" y="525" font-size="16.5" fill="#262626" stroke="#fff" stroke-width="0.22">Si<tspan font-size="11.5" dy="4">3</tspan><tspan dy="-4">N</tspan><tspan font-size="11.5" dy="4">4</tspan></text><text x="650.0" y="83.3" font-size="19" fill="#4a4a4a">10</text><text x="671.5" y="75.5" font-size="13.5" fill="#4a4a4a">4</text><text x="826.8" y="83.3" font-size="19" fill="#4a4a4a">10</text><text x="848.3" y="75.5" font-size="13.5" fill="#4a4a4a">5</text><text x="1004.3" y="92.6" font-size="19" fill="#4a4a4a">10</text><text x="1025.8" y="84.8" font-size="13.5" fill="#4a4a4a">6</text><text x="1016.9" y="251.6" font-size="19" fill="#4a4a4a">10</text><text x="1038.4" y="243.8" font-size="13.5" fill="#4a4a4a">7</text><text x="114.9" y="553.7" font-size="19" fill="#4a4a4a">10</text><text x="136.4" y="545.9" font-size="13.5" fill="#4a4a4a">4</text><text x="117.3" y="711.7" font-size="19" fill="#4a4a4a">10</text><text x="138.8" y="703.9" font-size="13.5" fill="#4a4a4a">5</text><text x="304.0" y="711.7" font-size="19" fill="#4a4a4a">10</text><text x="325.5" y="703.9" font-size="13.5" fill="#4a4a4a">6</text><line x1="393.2" y1="704" x2="418.2" y2="704" stroke="#333" stroke-width="2"/><text x="405.7" y="699.5" font-size="19" font-family="Liberation Serif" font-style="italic" fill="#333" stroke="#333" stroke-width="0.3" text-anchor="middle">λ</text><text x="405.7" y="716.5" font-size="20" font-family="Liberation Serif" font-style="italic" fill="#333" stroke="#333" stroke-width="0.4" text-anchor="middle">α</text><text x="421.7" y="711" font-size="17" fill="#666" textLength="61.9" lengthAdjust="spacingAndGlyphs">(W/m)=</text><text x="485.6" y="711" font-size="19" fill="#666">10</text><text x="507.1" y="703.2" font-size="13.5" fill="#666">7</text><line x1="426" y1="28.5" x2="451" y2="28.5" stroke="#333" stroke-width="2"/><text x="438.5" y="24.0" font-size="19" font-family="Liberation Serif" font-style="italic" fill="#333" stroke="#333" stroke-width="0.3" text-anchor="middle">λ</text><text x="438.5" y="41.0" font-size="20" font-family="Liberation Serif" font-style="italic" fill="#333" stroke="#333" stroke-width="0.4" text-anchor="middle">α</text><text x="450.5" y="35" font-size="17" fill="#666" textLength="63.3" lengthAdjust="spacingAndGlyphs">(W/m)=</text><text x="515.8" y="35" font-size="19" fill="#666">10</text><text x="537.3" y="27.2" font-size="13.5" fill="#666">3</text></g>
<g fill="#fff" stroke="#b8b8b8" stroke-width="1.5" stroke-linecap="round" stroke-linejoin="round">
<path d="M929,742.5 c-8.5,0 -13.5,5.5 -13.5,11.5 c0,4 2,7 5.5,9 l-1.5,4.5 l5.5,-2.5 c1.5,0.4 3,0.6 4.5,0.6 c8,0 13.5,-5.5 13.5,-11.6 c0,-6 -5.5,-11.5 -14,-11.5z"/>
<path d="M946,755 c-7,0 -12,4.5 -12,10 c0,5.5 5,10 12,10 c1.3,0 2.6,-0.2 3.8,-0.5 l4.5,2.5 l-1.2,-4 c3,-2 5,-4.8 5,-8 c0,-5.5 -5,-10 -12,-10z"/>
</g>
<g fill="#b8b8b8"><circle cx="924" cy="750.5" r="1.3"/><circle cx="933" cy="750.5" r="1.3"/><circle cx="942" cy="762" r="1.2"/><circle cx="950" cy="762" r="1.2"/></g>
<g fill="none" stroke="#a8a8a8" stroke-width="1.9" stroke-linecap="square">
<path d="M967,757 h14 M974.5,750 v26 M974,758 l-7,12 M975,760 l5,6 M983,757 h12 M990,750 v25 l-3,-2 M990,760 l-6,8"/>
<path d="M1001,751 h13 v10 h-13 z M1001,756 h13 M999,765 h18 q0,10 -6,11 M1005,761 l-6,9 M1009,765 l-7,9 M1014,766 l-7,9"/>
<path d="M1023,753 l3,3 M1022,762 h4 v10 l-3,3 q10,3 22,1 M1030,751 h11 l-3,3 M1030,756 h12 v17 h-2 M1030,756 v17 M1030,761 h12 M1030,766 h12 M1036,756 v17"/>
</g>
</svg></body></html>
